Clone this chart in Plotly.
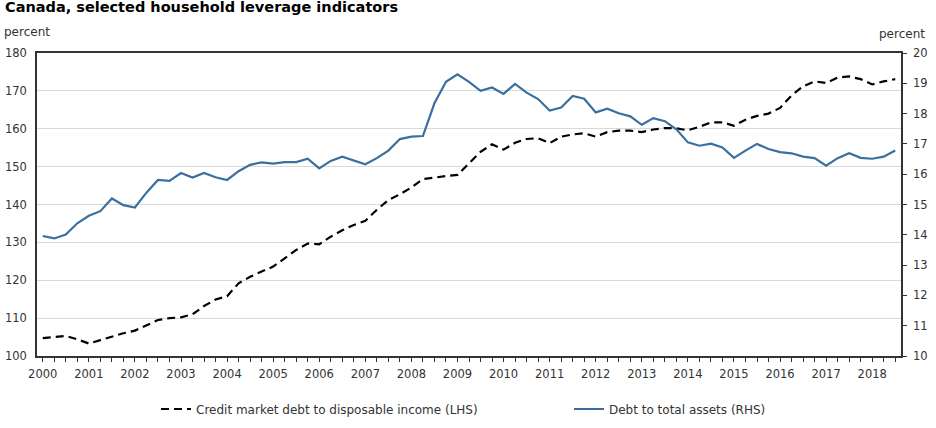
import plotly.graph_objects as go

# quarterly, 2000 Q1 .. 2018 Q3
years = list(range(2000, 2019))
quarters = [f"{y} Q{q}" for y in years for q in range(1, 5)][:75]

# credit market debt to disposable income, percent (LHS)
credit_to_income = [
    104.7, 105.0, 105.3, 104.4, 103.3, 104.2, 105.2, 106.0,
    106.7, 108.2, 109.5, 110.0, 110.2, 111.0, 113.2, 114.9,
    115.8, 119.2, 120.9, 122.3, 123.6, 125.8, 128.0, 129.7,
    129.5, 131.5, 133.2, 134.6, 135.7, 138.6, 141.2, 142.7,
    144.5, 146.7, 147.2, 147.5, 147.8, 150.8, 153.9, 155.9,
    154.5, 156.3, 157.3, 157.5, 156.2, 157.9, 158.5, 158.8,
    157.9, 159.1, 159.5, 159.5, 159.1, 159.8, 160.2, 160.1,
    159.6, 160.5, 161.7, 161.7, 160.8, 162.4, 163.4, 164.0,
    165.5, 168.8, 171.2, 172.5, 172.1, 173.5, 173.8, 173.1,
    171.7, 172.5, 173.1,
]

# debt to total assets, percent (RHS)
debt_to_assets = [
    13.96, 13.88, 14.01, 14.38, 14.63, 14.78, 15.20, 14.98,
    14.90, 15.39, 15.81, 15.78, 16.04, 15.89, 16.04, 15.90,
    15.81, 16.10, 16.31, 16.39, 16.35, 16.40, 16.40, 16.51,
    16.19, 16.44, 16.58, 16.46, 16.33, 16.53, 16.78, 17.16,
    17.24, 17.26, 18.34, 19.05, 19.30, 19.05, 18.75, 18.86,
    18.65, 18.98, 18.69, 18.48, 18.10, 18.20, 18.58, 18.49,
    18.04, 18.16, 18.01, 17.91, 17.63, 17.85, 17.75, 17.48,
    17.05, 16.94, 17.01, 16.88, 16.54, 16.78, 17.00, 16.83,
    16.73, 16.69, 16.58, 16.53, 16.28, 16.53, 16.69, 16.54,
    16.51, 16.58, 16.78,
]

tick_text = [q[:4] if q.endswith("Q1") else "" for q in quarters]

FONT = "DejaVu Sans"
TXT = "#333333"
AXIS = "#333333"
BLUE = "#3a6f9e"

fig = go.Figure()
fig.add_trace(go.Scatter(
    x=quarters, y=credit_to_income, mode="lines",
    name="Credit market debt to disposable income (LHS)",
    line=dict(color="black", width=2.2, dash="8px,5px"),
    legend="legend",
))
fig.add_trace(go.Scatter(
    x=quarters, y=debt_to_assets, mode="lines",
    name="Debt to total assets (RHS)",
    line=dict(color=BLUE, width=2.2),
    yaxis="y2", legend="legend2",
))

fig.update_layout(
    width=936, height=428,
    margin=dict(l=37, r=35, t=53, b=72),
    paper_bgcolor="white", plot_bgcolor="white",
    font=dict(family=FONT, size=11.5, color=TXT),
    showlegend=True,
    xaxis=dict(
        type="category", range=[-0.5, 74.5], automargin=False,
        tickmode="array", tickvals=quarters, ticktext=tick_text,
        ticks="outside", ticklen=4, tickcolor=AXIS, tickwidth=1,
        showline=True, linecolor=AXIS, linewidth=1.5, mirror=True,
        showgrid=False, tickangle=0, ticklabelstandoff=2,
    ),
    yaxis=dict(
        range=[100, 180], dtick=10, tick0=100, automargin=False,
        showline=True, linecolor=AXIS, linewidth=1.5,
        showgrid=True, gridcolor="#d9d9d9", gridwidth=1,
        ticks="", zeroline=False, ticklabelstandoff=6,
    ),
    yaxis2=dict(
        overlaying="y", side="right", range=[10, 20], dtick=1, tick0=10,
        automargin=False,
        showline=True, linecolor=AXIS, linewidth=1.5,
        ticks="outside", ticklen=4, tickcolor=AXIS,
        showgrid=False, zeroline=False, ticklabelstandoff=4,
    ),
    legend=dict(
        xref="container", yref="container",
        x=156 / 936, xanchor="left", y=1 - 409 / 428, yanchor="middle",
        orientation="h", bgcolor="rgba(0,0,0,0)", font=dict(size=12),
        itemwidth=30,
    ),
    legend2=dict(
        xref="container", yref="container",
        x=569 / 936, xanchor="left", y=1 - 409 / 428, yanchor="middle",
        orientation="h", bgcolor="rgba(0,0,0,0)", font=dict(size=12),
        itemwidth=30,
    ),
    annotations=[
        dict(text="<b>Canada, selected household leverage indicators</b>",
             xref="paper", yref="paper", x=-34 / 864, y=1 + 46 / 303,
             xanchor="left", yanchor="middle", showarrow=False,
             font=dict(size=14.5, color="black")),
        dict(text="percent", xref="paper", yref="paper",
             x=-35 / 864, y=1 + 21 / 303, xanchor="left", yanchor="middle",
             showarrow=False, font=dict(size=12)),
        dict(text="percent", xref="paper", yref="paper",
             x=1 + 26 / 864, y=1 + 19 / 303, xanchor="right", yanchor="middle",
             showarrow=False, font=dict(size=12)),
    ],
)

fig.write_html("out.html", config={"displayModeBar": False},
               post_script="document.body.style.margin='0';")
